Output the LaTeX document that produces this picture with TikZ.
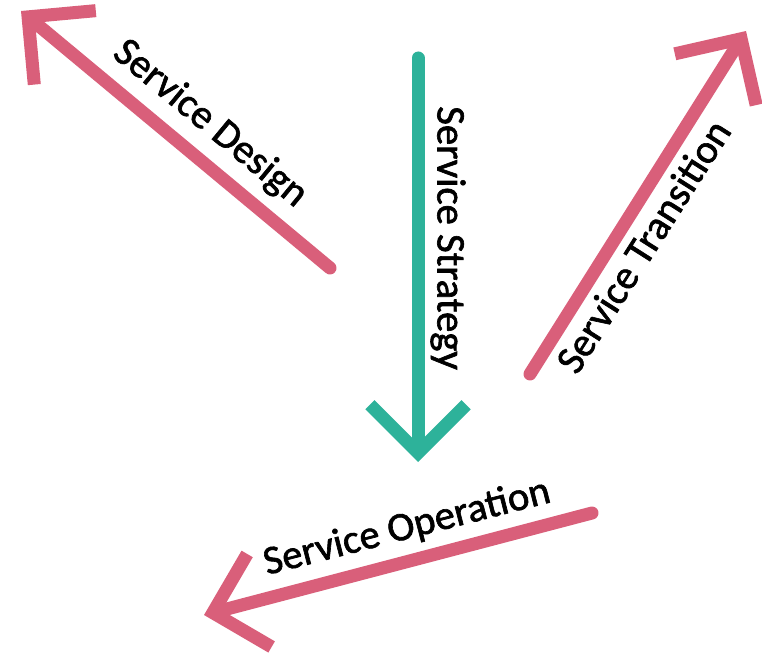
\documentclass[tikz,border=0pt]{standalone}
\usepackage{fontspec}
\setmainfont{Carlito}
\newfontfamily\cyclefont[FakeBold=1.6]{Carlito}
\usetikzlibrary{arrows.meta}

\definecolor{pinkline}{HTML}{D95F7A}
\definecolor{tealline}{HTML}{2DB29A}

\begin{document}
\begin{tikzpicture}[x=0.75pt, y=-0.75pt,
  cycle/.style={line width=9.75pt, line cap=round,
    -{Straight Barb[angle=90:51pt, sharp]}},
  lbl/.style={font=\cyclefont\fontsize{30.5}{36}\selectfont, inner sep=0pt}]

\useasboundingbox (0,0) rectangle (762,656);

\coordinate (S1) at (418, 58);
\coordinate (S2) at (418, 462);
\coordinate (D1) at (330, 268);
\coordinate (D2) at (21, 11);
\coordinate (T1) at (530, 374);
\coordinate (T2) at (746, 31);
\coordinate (O1) at (592, 513);
\coordinate (O2) at (204, 615);

\draw[cycle, tealline] (S1) -- (S2);
\draw[cycle, pinkline] (D1) -- (D2);
\draw[cycle, pinkline] (T1) -- (T2);
\draw[cycle, pinkline] (O1) -- (O2);

\node[lbl, rotate=-90] (s) at (448, 238) {Service Strategy};
\node[lbl, rotate=-39.6] (d) at (210, 124) {Service Design};
\node[lbl, rotate=57.6] (t) at (643, 246) {Service Transition};
\node[lbl, rotate=14.4] (o) at (407, 528) {Service Operation};

\end{tikzpicture}
\end{document}
